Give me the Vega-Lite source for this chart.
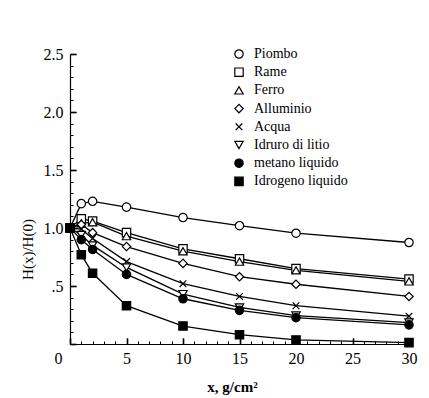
{
  "$schema": "https://vega.github.io/schema/vega-lite/v6.json",
  "autosize": "none",
  "width": 339,
  "height": 290,
  "padding": {"left": 70, "top": 54, "right": 20, "bottom": 54},
  "background": "white",
  "config": {
    "view": {"stroke": null, "fill": null},
    "font": "Liberation Serif",
    "axis": {"labelFont": "Liberation Serif", "titleFont": "Liberation Serif"},
    "legend": {"labelFont": "Liberation Serif"}
  },
  "data": {"values": [
    {"s": "Piombo", "x": 0, "y": 1.0}, {"s": "Piombo", "x": 1, "y": 1.21}, {"s": "Piombo", "x": 2, "y": 1.23}, {"s": "Piombo", "x": 5, "y": 1.18}, {"s": "Piombo", "x": 10, "y": 1.09}, {"s": "Piombo", "x": 15, "y": 1.02}, {"s": "Piombo", "x": 20, "y": 0.955}, {"s": "Piombo", "x": 30, "y": 0.875},
    {"s": "Rame", "x": 0, "y": 1.0}, {"s": "Rame", "x": 1, "y": 1.08}, {"s": "Rame", "x": 2, "y": 1.06}, {"s": "Rame", "x": 5, "y": 0.96}, {"s": "Rame", "x": 10, "y": 0.82}, {"s": "Rame", "x": 15, "y": 0.735}, {"s": "Rame", "x": 20, "y": 0.65}, {"s": "Rame", "x": 30, "y": 0.56},
    {"s": "Ferro", "x": 0, "y": 1.0}, {"s": "Ferro", "x": 1, "y": 1.04}, {"s": "Ferro", "x": 2, "y": 1.05}, {"s": "Ferro", "x": 5, "y": 0.93}, {"s": "Ferro", "x": 10, "y": 0.8}, {"s": "Ferro", "x": 15, "y": 0.71}, {"s": "Ferro", "x": 20, "y": 0.635}, {"s": "Ferro", "x": 30, "y": 0.54},
    {"s": "Alluminio", "x": 0, "y": 1.0}, {"s": "Alluminio", "x": 1, "y": 1.03}, {"s": "Alluminio", "x": 2, "y": 0.96}, {"s": "Alluminio", "x": 5, "y": 0.84}, {"s": "Alluminio", "x": 10, "y": 0.695}, {"s": "Alluminio", "x": 15, "y": 0.58}, {"s": "Alluminio", "x": 20, "y": 0.515}, {"s": "Alluminio", "x": 30, "y": 0.41},
    {"s": "Acqua", "x": 0, "y": 1.0}, {"s": "Acqua", "x": 1, "y": 0.99}, {"s": "Acqua", "x": 2, "y": 0.91}, {"s": "Acqua", "x": 5, "y": 0.71}, {"s": "Acqua", "x": 10, "y": 0.52}, {"s": "Acqua", "x": 15, "y": 0.41}, {"s": "Acqua", "x": 20, "y": 0.33}, {"s": "Acqua", "x": 30, "y": 0.24},
    {"s": "Idruro di litio", "x": 0, "y": 1.0}, {"s": "Idruro di litio", "x": 1, "y": 0.94}, {"s": "Idruro di litio", "x": 2, "y": 0.85}, {"s": "Idruro di litio", "x": 5, "y": 0.66}, {"s": "Idruro di litio", "x": 10, "y": 0.43}, {"s": "Idruro di litio", "x": 15, "y": 0.315}, {"s": "Idruro di litio", "x": 20, "y": 0.245}, {"s": "Idruro di litio", "x": 30, "y": 0.185},
    {"s": "metano liquido", "x": 0, "y": 1.0}, {"s": "metano liquido", "x": 1, "y": 0.9}, {"s": "metano liquido", "x": 2, "y": 0.815}, {"s": "metano liquido", "x": 5, "y": 0.6}, {"s": "metano liquido", "x": 10, "y": 0.39}, {"s": "metano liquido", "x": 15, "y": 0.29}, {"s": "metano liquido", "x": 20, "y": 0.227}, {"s": "metano liquido", "x": 30, "y": 0.165},
    {"s": "Idrogeno liquido", "x": 0, "y": 1.0}, {"s": "Idrogeno liquido", "x": 1, "y": 0.77}, {"s": "Idrogeno liquido", "x": 2, "y": 0.61}, {"s": "Idrogeno liquido", "x": 5, "y": 0.33}, {"s": "Idrogeno liquido", "x": 10, "y": 0.155}, {"s": "Idrogeno liquido", "x": 15, "y": 0.08}, {"s": "Idrogeno liquido", "x": 20, "y": 0.035}, {"s": "Idrogeno liquido", "x": 30, "y": 0.012}
  ]},
  "resolve": {"scale": {"x": "independent", "y": "independent"}, "axis": {"x": "independent", "y": "independent"}},
  "layer": [
    {
      "mark": {"type": "line", "stroke": "black", "strokeWidth": 1.3},
      "encoding": {
        "x": {"field": "x", "type": "quantitative", "scale": {"domain": [0, 30], "nice": false, "zero": false},
          "axis": {"orient": "bottom", "values": [0,5,10,15,20,25,30], "ticks": true, "tickSize": -6, "tickColor": "#000000", "tickWidth": 1.5, "labels": false, "grid": false, "domain": true, "domainColor": "black", "domainWidth": 1.2, "zindex": 1,
            "title": "x, g/cm²", "titleFont": "Liberation Serif", "titleFontSize": 15, "titleFontWeight": "bold", "titleColor": "black", "titleX": 162, "titleY": 35}},
        "y": {"field": "y", "type": "quantitative", "scale": {"domain": [0, 2.5], "nice": false, "zero": false},
          "axis": {"orient": "left", "values": [0,0.5,1,1.5,2,2.5], "ticks": true, "tickSize": -6, "tickColor": "#000000", "tickWidth": 1.5, "labels": false, "grid": false, "domain": true, "domainColor": "black", "domainWidth": 1.2, "zindex": 1,
            "title": "H(x)/H(0)", "titleFont": "Liberation Serif", "titleFontSize": 15, "titleFontWeight": "normal", "titleColor": "black", "titleX": -43, "titleY": 195, "titleAngle": -90, "titleBaseline": "middle"}},
        "detail": {"field": "s"}
      }
    },
    {
      "mark": {"type": "point", "opacity": 0, "size": 1},
      "encoding": {
        "x": {"field": "x", "type": "quantitative", "scale": {"domain": [0, 30], "nice": false, "zero": false},
          "axis": {"orient": "bottom", "offset": -3, "zindex": 1, "values": [1,2,3,4,6,7,8,9,11,12,13,14,16,17,18,19,21,22,23,24,26,27,28,29], "labels": false, "title": null, "domain": false, "ticks": true, "tickSize": 3, "tickColor": "#000000", "tickWidth": 1}},
        "y": {"field": "y", "type": "quantitative", "scale": {"domain": [0, 2.5], "nice": false, "zero": false},
          "axis": {"orient": "left", "offset": -3, "zindex": 1, "values": [0.1,0.2,0.3,0.4,0.6,0.7,0.8,0.9,1.1,1.2,1.3,1.4,1.6,1.7,1.8,1.9,2.1,2.2,2.3,2.4], "labels": false, "title": null, "domain": false, "ticks": true, "tickSize": 3, "tickColor": "#000000", "tickWidth": 1}}
      }
    },
    {
      "mark": {"type": "point", "filled": true, "strokeWidth": 1.2, "size": 70, "opacity": 1},
      "encoding": {
        "x": {"field": "x", "type": "quantitative", "scale": {"domain": [0, 30], "nice": false, "zero": false},
          "axis": {"orient": "bottom", "offset": -6, "zindex": 1, "values": [0,5,10,15,20,25,30], "title": null, "labelFont": "Liberation Serif", "labelFontSize": 16, "labelColor": "black", "labelPadding": 6, "labelOffset": {"condition": {"test": "datum.value == 0", "value": -12}, "value": 0}, "domain": false, "ticks": true, "tickSize": 6, "tickColor": "#000000", "tickWidth": 1.2, "labelFlush": false}},
        "y": {"field": "y", "type": "quantitative", "scale": {"domain": [0, 2.5], "nice": false, "zero": false},
          "axis": {"orient": "left", "offset": -6, "zindex": 1, "values": [0,0.5,1,1.5,2,2.5], "labelExpr": "datum.value == 0 ? '' : datum.value == 0.5 ? '.5' : format(datum.value, '.1f')", "title": null, "labelFont": "Liberation Serif", "labelFontSize": 16, "labelColor": "black", "labelPadding": 7, "domain": false, "ticks": true, "tickSize": 6, "tickColor": "#000000", "tickWidth": 1.2}},
        "shape": {"field": "s", "type": "nominal",
          "scale": {"domain": ["Piombo", "Rame", "Ferro", "Alluminio", "Acqua", "Idruro di litio", "metano liquido", "Idrogeno liquido"],
            "range": ["circle", "square", "triangle-up", "diamond", "M-0.8,-0.8L0.8,0.8M-0.8,0.8L0.8,-0.8", "triangle-down", "circle", "square"]},
          "legend": {"title": null, "orient": "none", "legendX": 162, "legendY": -7, "labelFont": "Liberation Serif", "labelFontSize": 14, "labelColor": "black", "symbolSize": 70, "symbolStrokeWidth": 1.2, "rowPadding": 4.2, "labelOffset": 8, "padding": 0}},
        "fill": {"field": "s", "type": "nominal",
          "scale": {"domain": ["Piombo", "Rame", "Ferro", "Alluminio", "Acqua", "Idruro di litio", "metano liquido", "Idrogeno liquido"],
            "range": ["white", "white", "white", "white", "white", "white", "black", "black"]},
          "legend": {"title": null, "orient": "none", "legendX": 162, "legendY": -7, "labelFont": "Liberation Serif", "labelFontSize": 14, "labelColor": "black", "symbolSize": 70, "symbolStrokeWidth": 1.2, "rowPadding": 4.2, "labelOffset": 8, "padding": 0}},
        "stroke": {"field": "s", "type": "nominal",
          "scale": {"domain": ["Piombo", "Rame", "Ferro", "Alluminio", "Acqua", "Idruro di litio", "metano liquido", "Idrogeno liquido"],
            "range": ["black", "black", "black", "black", "black", "black", "black", "black"]},
          "legend": {"title": null, "orient": "none", "legendX": 162, "legendY": -7, "labelFont": "Liberation Serif", "labelFontSize": 14, "labelColor": "black", "symbolSize": 70, "symbolStrokeWidth": 1.2, "rowPadding": 4.2, "labelOffset": 8, "padding": 0}}
      }
    }
  ]
}
